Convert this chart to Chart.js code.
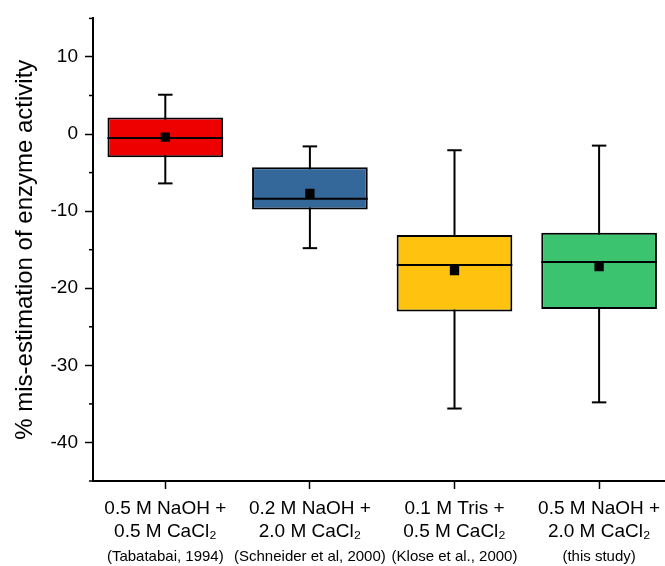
<!DOCTYPE html>
<html>
<head>
<meta charset="utf-8">
<script src="https://cdn.jsdelivr.net/npm/chart.js@4.4.0/dist/chart.umd.min.js"></script>
<style>
  html, body { margin: 0; padding: 0; background: #fff; overflow: hidden; }
  #wrap { width: 678px; height: 566px; }
</style>
</head>
<body>
<div id="wrap"><canvas id="boxChart" width="678" height="566"></canvas></div>
<script>
// categories (x positions 1..4)
const positions = [1, 2, 3, 4];
const labelLine1 = ['0.5 M NaOH +', '0.2 M NaOH +', '0.1 M Tris +', '0.5 M NaOH +'];
const labelLine2 = ['0.5 M CaCl\u2082', '2.0 M CaCl\u2082', '0.5 M CaCl\u2082', '2.0 M CaCl\u2082'];
const citations = ['(Tabatabai, 1994)', '(Schneider et al, 2000)', '(Klose et al., 2000)', '(this study)'];

// box statistics, % mis-estimation
const whiskerMin = [-6.4, -14.8, -35.6, -34.8];
const q1 = [-3.0, -9.8, -23.0, -22.7];
const median = [-0.5, -8.4, -17.0, -16.6];
const q3 = [2.15, -4.3, -13.1, -12.8];
const whiskerMax = [5.1, -1.6, -2.1, -1.5];
const mean = [-0.4, -7.7, -17.7, -17.2];

const boxColors = ['#ee0000', '#34689a', '#ffc20f', '#3cc36f'];

const FONT = "'Liberation Sans', Arial, sans-serif";

// whiskers, caps, medians and minor ticks drawn through the chart scales
const boxExtras = {
  id: 'boxExtras',
  beforeDatasetsDraw(chart) {
    const {ctx, scales: {x, y}} = chart;
    ctx.save();
    ctx.strokeStyle = '#000';
    ctx.lineWidth = 2;
    positions.forEach((p, i) => {
      const px = x.getPixelForValue(p);
      ctx.beginPath();
      ctx.moveTo(px, y.getPixelForValue(whiskerMin[i]));
      ctx.lineTo(px, y.getPixelForValue(whiskerMax[i]));
      ctx.stroke();
      [whiskerMin[i], whiskerMax[i]].forEach(v => {
        const py = y.getPixelForValue(v);
        ctx.beginPath();
        ctx.moveTo(x.getPixelForValue(p - 0.05), py);
        ctx.lineTo(x.getPixelForValue(p + 0.05), py);
        ctx.stroke();
      });
    });
    ctx.restore();
  },
  afterDatasetsDraw(chart) {
    const {ctx, scales: {y}} = chart;
    const bars = chart.getDatasetMeta(0).data;
    ctx.save();
    ctx.strokeStyle = '#000';
    ctx.lineWidth = 2;
    bars.forEach((bar, i) => {
      const py = y.getPixelForValue(median[i]);
      ctx.beginPath();
      ctx.moveTo(bar.x - bar.width / 2, py);
      ctx.lineTo(bar.x + bar.width / 2, py);
      ctx.stroke();
    });
    // minor y ticks
    ctx.lineWidth = 1.5;
    y.ticks.forEach(t => {
      if (t.value % 10 !== 0) {
        const py = y.getPixelForValue(t.value);
        ctx.beginPath();
        ctx.moveTo(chart.chartArea.left - 4, py);
        ctx.lineTo(chart.chartArea.left, py);
        ctx.stroke();
      }
    });
    ctx.restore();
  }
};

new Chart(document.getElementById('boxChart'), {
  type: 'bar',
  data: {
    datasets: [
      {
        label: 'Box',
        data: positions.map((p, i) => ({x: p, y: [q1[i], q3[i]]})),
        backgroundColor: boxColors,
        borderColor: '#000',
        borderWidth: 2,
        borderSkipped: false,
        categoryPercentage: 0.8,
        barPercentage: 1.0,
        order: 2
      },
      {
        type: 'scatter',
        label: 'Mean',
        data: positions.map((p, i) => ({x: p, y: mean[i]})),
        pointStyle: 'rect',
        pointRadius: 6.6,
        backgroundColor: '#000',
        borderWidth: 0,
        order: 1
      }
    ]
  },
  options: {
    responsive: false,
    animation: false,
    devicePixelRatio: 1,
    layout: { padding: { top: 16, left: 0, right: 0, bottom: 0 } },
    plugins: {
      legend: { display: false },
      tooltip: { enabled: false }
    },
    scales: {
      x: {
        type: 'linear',
        min: 0.5,
        max: 4.5,
        offset: false,
        afterBuildTicks: scale => { scale.ticks = positions.map(v => ({value: v})); },
        afterFit: scale => { scale.height = 60; },
        grid: { offset: false, drawOnChartArea: false, tickLength: 8, tickColor: '#000', tickWidth: 1.5 },
        border: { color: '#000', width: 2 },
        ticks: {
          color: '#000',
          padding: 8,
          maxRotation: 0,
          autoSkip: false,
          font: { family: FONT, size: 19, lineHeight: 1.22 },
          callback: v => [labelLine1[v - 1], labelLine2[v - 1]]
        }
      },
      x2: {
        type: 'linear',
        position: 'bottom',
        min: 0.5,
        max: 4.5,
        offset: false,
        afterBuildTicks: scale => { scale.ticks = positions.map(v => ({value: v})); },
        afterFit: scale => { scale.height = 25; },
        grid: { offset: false, display: false, drawTicks: false },
        border: { display: false },
        ticks: {
          color: '#000',
          padding: 7,
          maxRotation: 0,
          autoSkip: false,
          font: { family: FONT, size: 15 },
          callback: v => citations[v - 1]
        }
      },
      y: {
        min: -45,
        max: 15,
        afterFit: scale => { scale.width = 93; },
        grid: {
          drawOnChartArea: false,
          tickLength: 8,
          tickWidth: 1.5,
          tickColor: c => (c.tick && c.tick.value % 10 === 0) ? '#000' : 'rgba(0,0,0,0)'
        },
        border: { color: '#000', width: 2 },
        ticks: {
          stepSize: 5,
          color: '#000',
          padding: 7,
          font: { family: FONT, size: 19 },
          callback: v => (v % 10 === 0 ? String(v) : '')
        },
        title: {
          display: true,
          text: '% mis-estimation of enzyme activity',
          color: '#000',
          font: { family: FONT, size: 24 },
          padding: { top: 11, bottom: 0 }
        }
      }
    }
  },
  plugins: [boxExtras]
});
</script>
</body>
</html>
